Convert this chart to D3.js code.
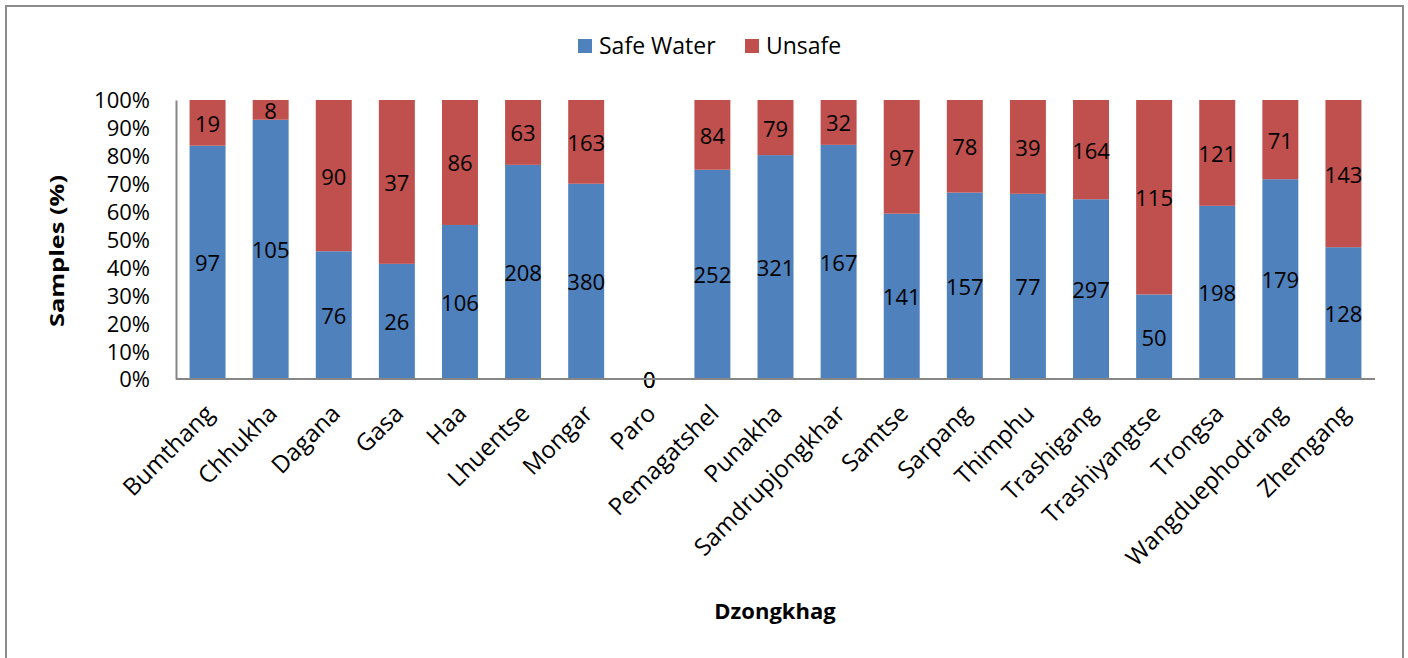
<!DOCTYPE html>
<html>
<head>
<meta charset="utf-8">
<script src="https://cdn.jsdelivr.net/npm/d3@7"></script>
<style>
  html, body { margin: 0; padding: 0; background: #fff; }
  svg { display: block; }
  text { font-family: "Open Sans", "Noto Sans", sans-serif; fill: #000; }
</style>
</head>
<body>
<svg id="chart" width="1408" height="658"></svg>
<script>
const categories = ["Bumthang","Chhukha","Dagana","Gasa","Haa","Lhuentse","Mongar","Paro","Pemagatshel","Punakha","Samdrupjongkhar","Samtse","Sarpang","Thimphu","Trashigang","Trashiyangtse","Trongsa","Wangduephodrang","Zhemgang"];
const safeWater = [97,105,76,26,106,208,380,0,252,321,167,141,157,77,297,50,198,179,128];
const unsafe = [19,8,90,37,86,63,163,0,84,79,32,97,78,39,164,115,121,71,143];
const seriesNames = ["Safe Water","Unsafe"];
const seriesColors = ["#4F81BD","#C0504D"];
const yTicks = [0,0.1,0.2,0.3,0.4,0.5,0.6,0.7,0.8,0.9,1.0];

const svg = d3.select("#chart");
const m = {left:176, right:1375, top:100, bottom:379};

// outer border
svg.append("rect").attr("x",6).attr("y",6).attr("width",1397).attr("height",660)
  .attr("fill","#fff").attr("stroke","#8c8c8c").attr("stroke-width",2);

const x = d3.scaleBand().domain(categories).range([m.left, m.right]).paddingInner(0.43).paddingOuter(0.215);
const y = d3.scaleLinear().domain([0,1]).range([m.bottom, m.top]);

const rows = categories.map((c,i)=>({cat:c, safe:safeWater[i], unsafe:unsafe[i]}));
const stack = d3.stack().keys(["safe","unsafe"]).offset(d3.stackOffsetExpand);
const stacked = stack(rows);

const g = svg.append("g");
stacked.forEach((s,si)=>{
  g.append("g").selectAll("rect").data(s).join("rect")
    .attr("x", d=>x(d.data.cat))
    .attr("width", x.bandwidth())
    .attr("y", d=>isNaN(d[1])?y(0):y(d[1]))
    .attr("height", d=>isNaN(d[1])?0:y(d[0])-y(d[1]))
    .attr("fill", seriesColors[si]);
});

// data labels
stacked.forEach((s,si)=>{
  const key = s.key;
  g.append("g").selectAll("text").data(s).join("text")
    .attr("x", d=>x(d.data.cat)+x.bandwidth()/2)
    .attr("y", d=>{
      const a = isNaN(d[0])?0:d[0], b = isNaN(d[1])?0:d[1];
      return y((a+b)/2);
    })
    .attr("text-anchor","middle")
    .attr("dominant-baseline","central")
    .style("font-size","22px")
    .text(d=>d.data[key]);
});

// y axis
const yAxis = d3.axisLeft(y).tickValues(yTicks).tickFormat(d3.format(".0%")).tickSize(0).tickPadding(26);
const ya = svg.append("g").attr("transform",`translate(${m.left},0)`).call(yAxis);
ya.select(".domain").attr("stroke","#868686").attr("stroke-width",2);
ya.selectAll("text").style("font-size","22px").attr("dy","0.36em");

// x axis
const xAxis = d3.axisBottom(x).tickSize(0).tickFormat("");
const xa = svg.append("g").attr("transform",`translate(0,${m.bottom})`).call(xAxis);
xa.select(".domain").attr("stroke","#868686").attr("stroke-width",2).attr("d",`M${m.left},0H${m.right}`);

svg.append("g").selectAll("text").data(categories).join("text")
  .attr("transform", d=>`translate(${x(d)+x.bandwidth()/2+8},${m.bottom+36}) rotate(-45)`)
  .attr("text-anchor","end")
  .style("font-size","24px")
  .text(d=>d);

// axis titles
svg.append("text").attr("transform","translate(64,251) rotate(-90)")
  .attr("text-anchor","middle").style("font-size","20px").style("font-weight","bold")
  .attr("textLength",152).attr("lengthAdjust","spacingAndGlyphs")
  .text("Samples (%)");
svg.append("text").attr("x",775).attr("y",619)
  .attr("text-anchor","middle").style("font-size","22px").style("font-weight","bold")
  .text("Dzongkhag");

// legend
const legend = svg.append("g");
const legX = [578, 745];
seriesNames.forEach((n,i)=>{
  legend.append("rect").attr("x",legX[i]).attr("y",39).attr("width",14).attr("height",14).attr("fill",seriesColors[i]);
  legend.append("text").attr("x",legX[i]+21).attr("y",54).style("font-size","23px").text(n);
});
</script>
</body>
</html>
